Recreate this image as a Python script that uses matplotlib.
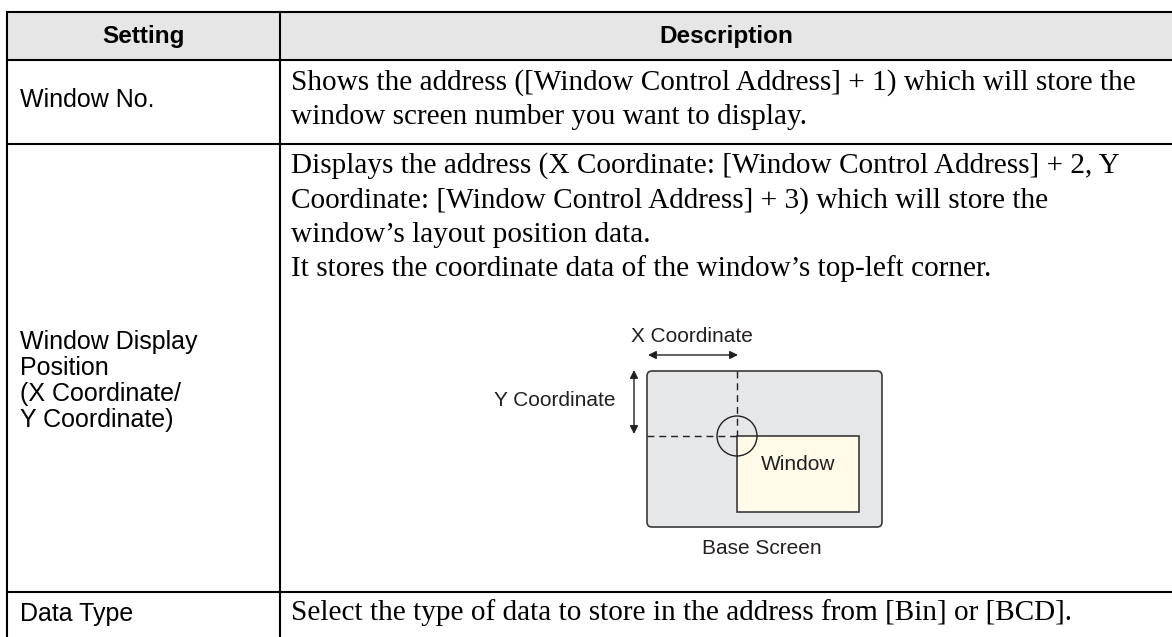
import numpy as np
import matplotlib
matplotlib.use("Agg")
from matplotlib import pyplot as plt
from matplotlib.patches import Rectangle, FancyBboxPatch, Circle

####################################################################################################
# table content
####################################################################################################
headers = ["Setting", "Description"]
settings = ["Window No.",
            "Window Display\nPosition\n(X Coordinate/\nY Coordinate)",
            "Data Type"]
descriptions = [
    ["Shows the address ([Window Control Address] + 1) which will store the",
     "window screen number you want to display."],
    ["Displays the address (X Coordinate: [Window Control Address] + 2, Y",
     "Coordinate: [Window Control Address] + 3) which will store the",
     "window\u2019s layout position data.",
     "It stores the coordinate data of the window\u2019s top-left corner."],
    ["Select the type of data to store in the address from [Bin] or [BCD]."],
]
diagram_labels = ["X Coordinate", "Y Coordinate", "Window", "Base Screen"]

# layout (pixels)
W, H = 1172, 637
x_left, x_div, x_right = 7, 280, 1172
row_edges = [12, 60, 144, 592]
line_step = 34.5

sans = ["Liberation Sans", "DejaVu Sans"]
serif = ["Liberation Serif", "DejaVu Serif"]

fig = plt.figure(figsize=(W / 100, H / 100), dpi=100)
ax = fig.add_axes([0, 0, 1, 1])
ax.set_xlim(0, W)
ax.set_ylim(H, 0)
ax.axis("off")

lw = 1.5
# header fill
ax.add_patch(Rectangle((x_left, row_edges[0]), x_right - x_left, row_edges[1] - row_edges[0],
                       facecolor="#e6e6e6", edgecolor="none", zorder=0))
# horizontal rules
for y in row_edges:
    ax.plot([x_left, x_right], [y, y], color="black", lw=lw, solid_capstyle="butt")
# vertical rules
ax.plot([x_left, x_left], [row_edges[0], H], color="black", lw=lw)
ax.plot([x_div, x_div], [row_edges[0], H], color="black", lw=lw)

# header text
ax.text((x_left + x_div) / 2, 36, headers[0], family=sans, weight="bold", fontsize=17.5,
        ha="center", va="center")
ax.text((x_div + x_right) / 2, 36, headers[1], family=sans, weight="bold", fontsize=17.5,
        ha="center", va="center")

# setting column
ax.text(20, 100, settings[0], family=sans, fontsize=18, ha="left", va="center")
ax.text(20, 381, settings[1], family=sans, fontsize=18, ha="left", va="center", linespacing=1.12)
ax.text(20, 614, settings[2], family=sans, fontsize=18, ha="left", va="center")

# description column
first_base = [90, 173, 620]
for lines, yb in zip(descriptions, first_base):
    for i, s in enumerate(lines):
        ax.text(291, yb + i * line_step, s, family=serif, fontsize=21.1, ha="left", va="baseline")

####################################################################################################
# diagram
####################################################################################################
dcol = "#231f20"
ax.add_patch(FancyBboxPatch((647, 371), 882 - 647, 527 - 371,
                            boxstyle="round,pad=0,rounding_size=5",
                            facecolor="#e6e7e9", edgecolor="#3a3a3a", lw=1.2))
ax.add_patch(Rectangle((737, 436), 859 - 737, 512 - 436,
                       facecolor="#fffbe8", edgecolor="#3a3a3a", lw=1.2))
ax.plot([647, 737], [436, 436], color=dcol, lw=1.0, ls=(0, (5, 3.5)))
ax.plot([737, 737], [371, 436], color=dcol, lw=1.0, ls=(0, (5, 3.5)))
ax.add_patch(Circle((737, 436), 20, facecolor="none", edgecolor=dcol, lw=1.0))

ax.annotate("", xy=(648, 355), xytext=(738, 355),
            arrowprops=dict(arrowstyle="<|-|>", color=dcol, lw=1.0, mutation_scale=12,
                            shrinkA=0, shrinkB=0))
ax.annotate("", xy=(634, 370), xytext=(634, 434),
            arrowprops=dict(arrowstyle="<|-|>", color=dcol, lw=1.0, mutation_scale=12,
                            shrinkA=0, shrinkB=0))

ax.text(692, 337, diagram_labels[0], family=sans, fontsize=15, color=dcol, ha="center", va="center")
ax.text(616, 401, diagram_labels[1], family=sans, fontsize=15, color=dcol, ha="right", va="center")
ax.text(798, 464, diagram_labels[2], family=sans, fontsize=15, color=dcol, ha="center", va="center")
ax.text(762, 548, diagram_labels[3], family=sans, fontsize=15, color=dcol, ha="center", va="center")

plt.savefig("out.png", dpi=100)
